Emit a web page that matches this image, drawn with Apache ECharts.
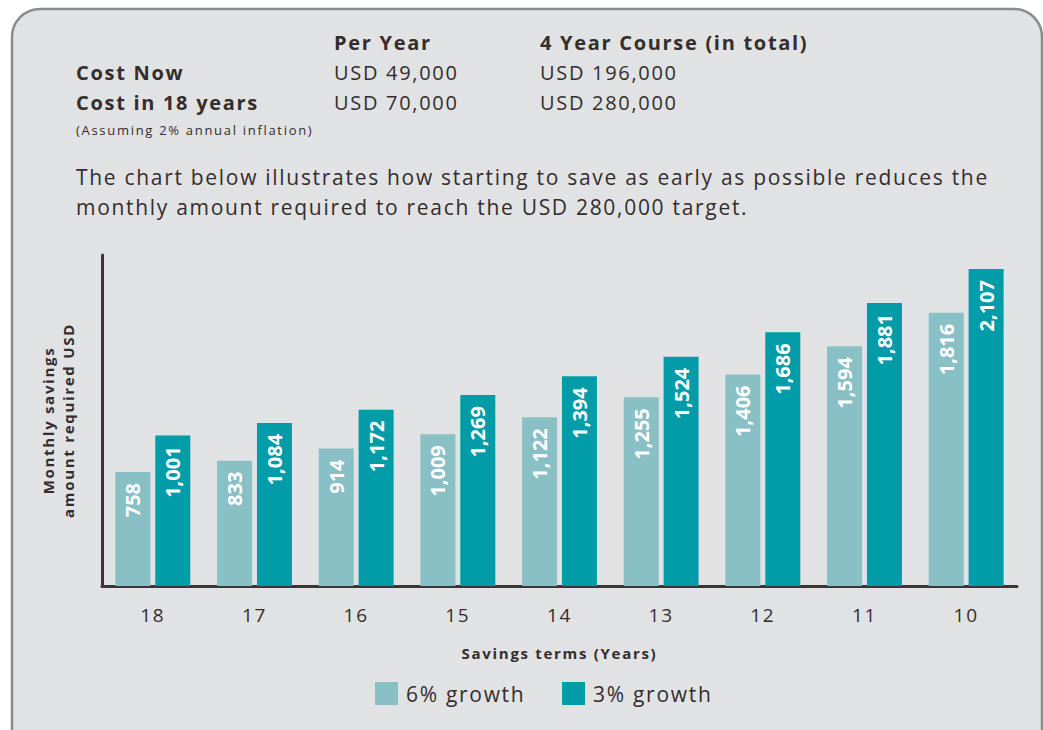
<!DOCTYPE html>
<html>
<head>
<meta charset="utf-8">
<script src="https://cdn.jsdelivr.net/npm/echarts@6/dist/echarts.min.js"></script>
<style>
  html, body { margin: 0; padding: 0; background: #fff; }
  #chart { width: 1043px; height: 730px; }
  /* the reference text is letter-spaced, except the value labels inside the bars */
  #chart text { letter-spacing: 1.7px; }
  #chart text[style*="Noto"], #chart text[font-family*="Noto"] { letter-spacing: 0; }
</style>
</head>
<body>
<div id="chart"></div>
<script>
// savings terms (years) on the x axis
const terms = ['18', '17', '16', '15', '14', '13', '12', '11', '10']
// monthly savings required, USD
const growth6 = [758, 833, 914, 1009, 1122, 1255, 1406, 1594, 1816]
const growth3 = [1001, 1084, 1172, 1269, 1394, 1524, 1686, 1881, 2107]
const seriesNames = ['6% growth', '3% growth']

const textColor = '#342d2c'
const font = '"Open Sans", sans-serif'

let chart = echarts.init(document.getElementById('chart'), null, { renderer: 'svg' })

function txt(x, y, s, size, bold) {
  return {
    type: 'text',
    left: x,
    top: y,
    style: {
      text: s,
      fill: textColor,
      font: (bold ? 'bold ' : '') + size + 'px ' + font
    }
  }
}

let labelOpt = {
  show: true,
  position: 'insideTop',
  rotate: 90,
  align: 'right',
  verticalAlign: 'middle',
  distance: 11,
  color: '#fff',
  fontSize: 20,
  fontWeight: 'bold',
  fontFamily: 'Noto Sans',
  formatter: p => p.value.toLocaleString('en-US')
}

chart.setOption({
  animation: false,
  textStyle: { fontFamily: font },
  graphic: [
    {
      type: 'rect',
      z: -10,
      shape: { x: 12, y: 9, width: 1030, height: 780, r: 28 },
      style: { fill: '#e1e2e3', stroke: '#8b8b8b', lineWidth: 2.5 }
    },
    txt(334, 32, 'Per Year', 20, true),
    txt(540, 32, '4 Year Course (in total)', 20, true),
    txt(76, 62, 'Cost Now', 20, true),
    txt(334, 62, 'USD 49,000', 20, false),
    txt(540, 62, 'USD 196,000', 20, false),
    txt(76, 92, 'Cost in 18 years', 20, true),
    txt(334, 92, 'USD 70,000', 20, false),
    txt(540, 92, 'USD 280,000', 20, false),
    txt(76, 123, '(Assuming 2% annual inflation)', 13, false),
    txt(76, 166, 'The chart below illustrates how starting to save as early as possible reduces the', 21, false),
    txt(76, 196, 'monthly amount required to reach the USD 280,000 target.', 21, false)
  ],
  legend: {
    data: seriesNames,
    left: 370,
    top: 677,
    icon: 'rect',
    itemWidth: 23,
    itemHeight: 23,
    itemGap: 52,
    textStyle: { color: textColor, fontSize: 21, padding: [0, 0, 0, 3] }
  },
  grid: {
    left: 102,
    right: 26,
    top: 255,
    bottom: 144
  },
  xAxis: {
    type: 'category',
    data: terms,
    name: 'Savings terms (Years)',
    nameLocation: 'middle',
    nameGap: 59,
    nameTextStyle: { color: textColor, fontSize: 15, fontWeight: 'bold' },
    axisLine: { lineStyle: { color: '#3b3434', width: 3 } },
    axisTick: { show: false },
    axisLabel: { color: textColor, fontSize: 19, margin: 19 }
  },
  yAxis: {
    type: 'value',
    min: 0,
    max: 2200,
    name: 'Monthly savings\namount required USD',
    nameLocation: 'middle',
    nameGap: 24,
    nameTextStyle: { color: textColor, fontSize: 15, fontWeight: 'bold', lineHeight: 20 },
    axisLine: { show: true, lineStyle: { color: '#3b3434', width: 3 } },
    axisTick: { show: false },
    axisLabel: { show: false },
    splitLine: { show: false }
  },
  series: [
    {
      name: seriesNames[0],
      type: 'bar',
      barWidth: 35,
      barGap: '14%',
      itemStyle: { color: '#88c0c6' },
      label: labelOpt,
      data: growth6
    },
    {
      name: seriesNames[1],
      type: 'bar',
      barWidth: 35,
      itemStyle: { color: '#019ca8' },
      label: labelOpt,
      data: growth3
    }
  ]
})
</script>
</body>
</html>
